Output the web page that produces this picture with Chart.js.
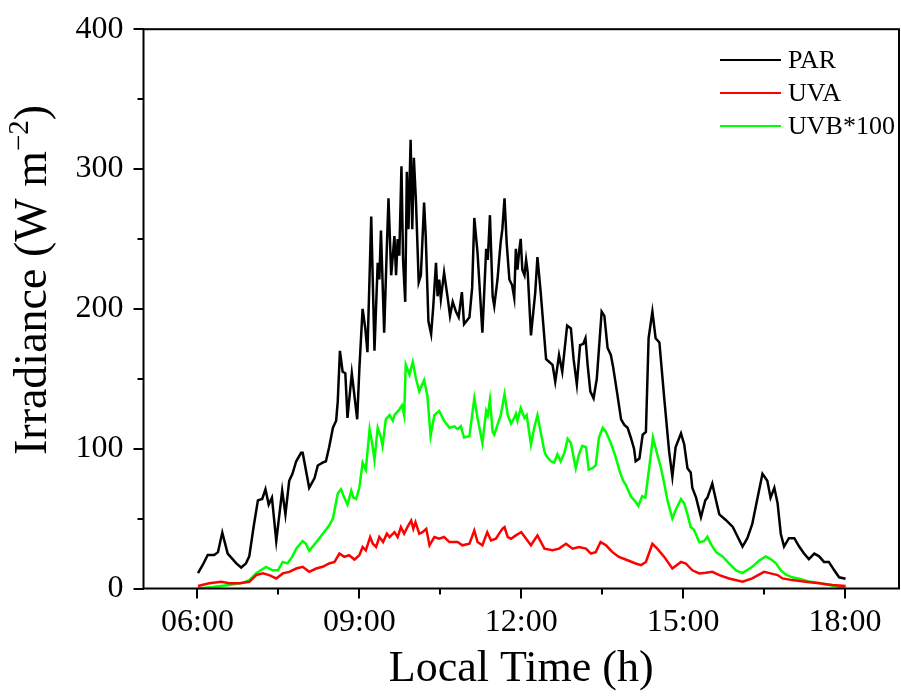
<!DOCTYPE html>
<html>
<head>
<meta charset="utf-8">
<script src="https://cdn.jsdelivr.net/npm/chart.js@4.4.0/dist/chart.umd.min.js"></script>
<style>
  body { margin: 0; background: #fff; }
  #chart { display: block; }
</style>
</head>
<body>
<canvas id="chart" width="901" height="698"></canvas>
<script>
// time in decimal hours, values in W m-2 (UVB scaled by 100)
const parTime = [6.01,6.10,6.19,6.31,6.38,6.46,6.56,6.72,6.81,6.90,
  6.96,7.04,7.12,7.20,7.26,7.32,7.38,7.46,7.57,7.63,
  7.70,7.76,7.83,7.92,7.95,8.07,8.17,8.23,8.32,8.38,
  8.44,8.51,8.57,8.60,8.64,8.69,8.74,8.78,8.86,8.96,
  9.00,9.06,9.11,9.15,9.22,9.28,9.34,9.37,9.40,9.46,
  9.51,9.54,9.59,9.65,9.68,9.71,9.74,9.78,9.81,9.85,
  9.88,9.91,9.95,9.98,10.01,10.05,10.10,10.14,10.20,10.23,
  10.28,10.33,10.37,10.42,10.45,10.48,10.51,10.57,10.64,10.68,
  10.73,10.79,10.84,10.90,10.94,11.04,11.09,11.13,11.19,11.28,
  11.35,11.38,11.42,11.47,11.50,11.56,11.59,11.62,11.65,11.69,
  11.73,11.78,11.83,11.87,11.90,11.93,11.96,11.99,12.02,12.06,
  12.09,12.12,12.18,12.26,12.30,12.36,12.46,12.52,12.58,12.63,
  12.70,12.76,12.85,12.92,12.97,13.03,13.09,13.15,13.19,13.23,
  13.28,13.34,13.40,13.49,13.54,13.60,13.66,13.70,13.78,13.85,
  13.91,13.97,14.03,14.09,14.12,14.19,14.25,14.31,14.36,14.43,
  14.49,14.56,14.65,14.74,14.80,14.86,14.96,15.02,15.08,15.14,
  15.17,15.24,15.33,15.41,15.45,15.54,15.61,15.67,15.79,15.92,
  16.01,16.10,16.19,16.28,16.38,16.47,16.56,16.62,16.69,16.75,
  16.81,16.87,16.96,17.06,17.15,17.24,17.33,17.43,17.52,17.61,
  17.70,17.80,17.89,18.01];
const parValue = [11,17,24,24,26,40,25,18,15,18,
  23,44,63,64,71,60,65,34,70,53,
  77,82,91,97,97,72,79,88,90,91,
  101,115,120,134,170,155,154,122,154,121,
  157,200,186,169,266,170,233,221,256,183,
  245,279,224,252,224,250,238,302,235,205,
  298,257,321,257,308,276,219,224,276,252,
  191,182,202,233,209,221,207,226,207,195,
  205,198,194,212,189,194,215,265,240,183,
  243,235,267,209,202,221,235,248,257,279,
  247,221,217,208,243,228,241,250,228,224,
  235,226,181,212,237,212,164,162,160,148,
  167,155,188,186,164,146,174,175,179,160,
  141,136,150,198,195,172,167,159,139,121,
  117,115,108,100,91,93,110,112,179,198,
  179,176,136,98,80,101,111,103,86,83,
  72,65,51,63,65,75,63,53,49,44,
  37,30,36,46,65,82,77,65,72,61,
  39,30,36,36,30,25,21,25,23,19,
  19,13,8,7];

const uvaTime = [6.01,6.22,6.44,6.59,6.78,6.96,7.09,7.21,7.33,7.46,
  7.58,7.70,7.83,7.95,8.07,8.20,8.32,8.44,8.54,8.63,
  8.72,8.81,8.91,9.00,9.06,9.12,9.20,9.25,9.31,9.37,
  9.44,9.51,9.56,9.65,9.71,9.77,9.83,9.89,9.96,10.00,
  10.04,10.11,10.17,10.24,10.30,10.39,10.48,10.57,10.67,10.82,
  10.91,11.04,11.13,11.19,11.28,11.37,11.44,11.53,11.59,11.65,
  11.69,11.75,11.81,11.90,12.00,12.09,12.18,12.30,12.43,12.58,
  12.70,12.83,12.95,13.07,13.20,13.29,13.38,13.47,13.57,13.69,
  13.81,13.97,14.12,14.22,14.31,14.43,14.52,14.65,14.80,14.96,
  15.05,15.17,15.30,15.42,15.54,15.67,15.85,16.10,16.28,16.50,
  16.62,16.75,16.84,17.02,17.27,17.52,17.77,18.01];
const uvaValue = [1.8,3.7,4.8,3.7,3.7,4.8,9.6,10.8,9.6,7.2,
  10.8,11.9,14.3,15.5,11.9,14.3,15.5,17.9,19,25,
  22.6,23.8,20.7,23.8,29.7,27.3,36.8,32,29.7,36.8,
  33.2,39.2,36.8,40.3,36.8,43.9,39.2,43.9,48.6,42.7,
  47.4,39.2,40.3,42.7,30.9,36.8,35.6,36.8,33.2,33.2,
  30.9,32,41.5,33.2,30.9,40.3,34.4,35.6,39.2,42.7,
  43.9,36.8,35.6,38,40.3,35.6,30.9,38,28.5,27.3,
  28.5,32,28.5,29.7,28.5,25,26,33.2,30.9,26,
  22.6,20.2,17.9,16.7,19,32,28.5,22.6,14.3,19,
  17.9,13,10.8,11.2,11.9,9.6,7.2,4.8,7.2,11.9,
  10.8,9.6,7.2,6,4.8,3.7,2.5,1.8];

const uvbTime = [6.01,6.28,6.59,6.84,6.96,7.09,7.21,7.27,7.39,7.49,
  7.58,7.67,7.76,7.83,7.95,8.01,8.07,8.20,8.32,8.44,
  8.51,8.60,8.66,8.72,8.78,8.85,8.89,8.94,9.00,9.06,
  9.12,9.19,9.24,9.28,9.34,9.40,9.43,9.49,9.56,9.62,
  9.65,9.74,9.79,9.83,9.86,9.93,9.99,10.05,10.11,10.20,
  10.26,10.32,10.39,10.48,10.57,10.67,10.76,10.82,10.88,10.94,
  11.04,11.13,11.19,11.28,11.35,11.38,11.42,11.47,11.50,11.56,
  11.62,11.69,11.75,11.81,11.87,11.90,11.93,11.99,12.06,12.10,
  12.18,12.24,12.30,12.36,12.43,12.46,12.55,12.61,12.67,12.73,
  12.80,12.86,12.92,13.01,13.07,13.13,13.20,13.25,13.32,13.38,
  13.44,13.51,13.57,13.66,13.75,13.83,13.89,13.94,14.03,14.12,
  14.17,14.24,14.30,14.37,14.44,14.52,14.59,14.65,14.71,14.80,
  14.86,14.96,15.02,15.08,15.14,15.20,15.30,15.39,15.45,15.51,
  15.61,15.73,15.85,15.98,16.10,16.28,16.41,16.53,16.62,16.72,
  16.81,16.90,17.02,17.15,17.33,17.52,17.77,18.01];
const uvbValue = [0,1,2.5,4,6,11,14,15.5,13,13,
  19,18,23,28.5,34,32,27,33,39,45,
  50,68,71,65,60,70,65,64,72,90,
  85,114,103,92,115,108,102,121,124,120,
  124,128,131,124,160,153,162,150,141,149,
  138,109,124,127,120,115,116,114,116,108,
  109,136,122,104,127,124,135,112,110,117,
  124,139,124,118,122,125,120,129,122,124,
  103,115,124,112,98,95,91,90,96,91,
  97,107,104,86,96,102,101,85,86,88,
  108,115,112,104,94,83,77,74,66,62,
  59,66,65,86,108,96,86,75,63,50,
  56,64,61,53,44,42,33,34,37,32,
  26,23,18,13,11,15.5,20,23,21,18,
  13,10,8,7,5,4,2,0.6];

const seriesLabels = ['PAR', 'UVA', 'UVB*100'];
const seriesColors = ['#000000', '#ff0000', '#00ff00'];
const xMajorTicks = [6, 9, 12, 15, 18];
const xMinorTicks = [7.5, 10.5, 13.5, 16.5];
const yMajorTicks = [0, 100, 200, 300, 400];
const yMinorTicks = [50, 150, 250, 350];

const serif = '"Liberation Serif", "Times New Roman", serif';
Chart.defaults.font.family = serif;
Chart.defaults.color = '#000';

function toPoints(times, values) {
  return times.map((t, i) => ({ x: t, y: values[i] }));
}

function hourLabel(v) {
  return String(v).padStart(2, '0') + ':00';
}

// box round the plot and the short minor ticks
const framePlugin = {
  id: 'frame',
  afterDraw(chart) {
    const { ctx, chartArea: a, scales } = chart;
    ctx.save();
    ctx.strokeStyle = '#000';
    ctx.lineWidth = 2;
    ctx.strokeRect(a.left, a.top, a.right - a.left, a.bottom - a.top);
    ctx.beginPath();
    xMinorTicks.forEach(v => {
      const px = Math.round(scales.x.getPixelForValue(v));
      ctx.moveTo(px, a.bottom);
      ctx.lineTo(px, a.bottom + 6);
    });
    yMinorTicks.forEach(v => {
      const py = Math.round(scales.y.getPixelForValue(v));
      ctx.moveTo(a.left, py);
      ctx.lineTo(a.left - 6, py);
    });
    ctx.stroke();
    ctx.restore();
  }
};

// legend inside the plot, top right
const legendPlugin = {
  id: 'insideLegend',
  afterDraw(chart) {
    const ctx = chart.ctx;
    ctx.save();
    ctx.font = '26px ' + serif;
    ctx.textBaseline = 'middle';
    ctx.textAlign = 'left';
    chart.data.datasets.forEach((ds, i) => {
      const y = 60 + i * 33;
      ctx.strokeStyle = ds.borderColor;
      ctx.lineWidth = 2;
      ctx.beginPath();
      ctx.moveTo(720, y);
      ctx.lineTo(781, y);
      ctx.stroke();
      ctx.fillStyle = '#000';
      ctx.fillText(ds.label, 788, y + 1);
    });
    ctx.restore();
  }
};

// y title with superscript unit
const yTitlePlugin = {
  id: 'yTitle',
  afterDraw(chart) {
    const ctx = chart.ctx;
    ctx.save();
    ctx.translate(46, 455);
    ctx.rotate(-Math.PI / 2);
    ctx.fillStyle = '#000';
    ctx.textAlign = 'left';
    ctx.textBaseline = 'alphabetic';
    let x = 0;
    ctx.font = '46px ' + serif;
    const main = 'Irradiance (W m';
    ctx.fillText(main, x, 0);
    x += ctx.measureText(main).width;
    ctx.font = '29px ' + serif;
    ctx.fillText('\u22122', x, -18);
    x += ctx.measureText('\u22122').width;
    ctx.font = '46px ' + serif;
    ctx.fillText(')', x, 0);
    ctx.restore();
  }
};

const datasets = [
  { label: seriesLabels[0], data: toPoints(parTime, parValue), borderColor: seriesColors[0] },
  { label: seriesLabels[1], data: toPoints(uvaTime, uvaValue), borderColor: seriesColors[1] },
  { label: seriesLabels[2], data: toPoints(uvbTime, uvbValue), borderColor: seriesColors[2] }
].map(d => ({ ...d, borderWidth: 2.5, pointRadius: 0, tension: 0, fill: false }));

new Chart(document.getElementById('chart').getContext('2d'), {
  type: 'line',
  data: { datasets },
  options: {
    responsive: false,
    animation: false,
    devicePixelRatio: 1,
    layout: { padding: { top: 25, right: 2, left: 0, bottom: 0 } },
    plugins: { legend: { display: false }, tooltip: { enabled: false } },
    scales: {
      x: {
        type: 'linear',
        min: 5,
        max: 19,
        afterBuildTicks: s => { s.ticks = xMajorTicks.map(v => ({ value: v })); },
        afterFit: s => { s.height = 109.5; },
        ticks: {
          font: { size: 32, family: serif },
          color: '#000',
          padding: 5,
          maxRotation: 0,
          callback: v => hourLabel(v)
        },
        grid: { drawOnChartArea: false, drawTicks: true, tickLength: 10, color: '#000', lineWidth: 2 },
        border: { display: false },
        title: {
          display: true,
          text: 'Local Time (h)',
          font: { size: 44, family: serif },
          color: '#000',
          padding: { top: 0, bottom: 2 }
        }
      },
      y: {
        min: 0,
        max: 400,
        afterBuildTicks: s => { s.ticks = yMajorTicks.map(v => ({ value: v })); },
        afterFit: s => { s.width = 143.5; },
        ticks: {
          font: { size: 32, family: serif },
          color: '#000',
          padding: 10
        },
        grid: { drawOnChartArea: false, drawTicks: true, tickLength: 10, color: '#000', lineWidth: 2 },
        border: { display: false }
      }
    }
  },
  plugins: [framePlugin, legendPlugin, yTitlePlugin]
});
</script>
</body>
</html>
